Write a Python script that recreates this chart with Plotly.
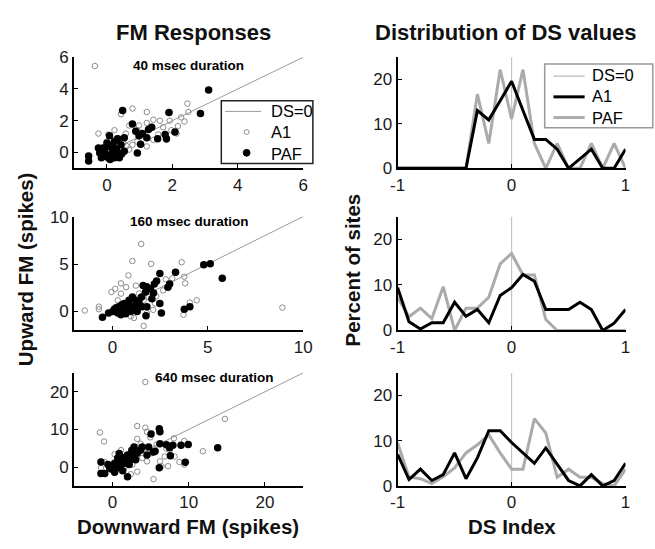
import plotly.graph_objects as go

# ---------------- scatter data: (downward FM, upward FM) spike counts ----------------
a1_40 = [(-0.37, 5.45), (0.78, 2.77), (0.43, 2.41), (1.22, 2.55), (1.87, 2.51), (2.46, 3.08),
         (2.49, 2.55), (2.27, 2.21), (2.17, 1.66), (2.37, 1.95), (1.62, 2.0), (1.42, 2.06),
         (1.22, 1.86), (0.98, 1.7), (0.93, 1.4), (0.68, 1.7), (0.23, 1.4), (-0.26, 1.19),
         (0.04, 1.13), (0.58, 1.19), (1.92, 2.0), (1.72, 1.59), (1.97, 1.4), (2.13, 1.19),
         (1.17, 0.99), (1.42, 0.79), (1.82, 0.79), (1.22, 0.38), (0.78, 0.48), (0.68, 0.18),
         (0.13, -0.43), (-0.17, -0.13), (0.33, 0.79), (0.43, 0.28), (0.93, 0.69), (1.57, 1.13),
         (0.1, 0.5), (0.3, 0.9), (0.5, 0.6), (-0.1, 0.2), (0.2, -0.2), (0.6, 0.4), (0.0, 0.7),
         (0.35, -0.3)]
paf_40 = [(3.11, 3.93), (0.48, 2.65), (1.90, 2.51), (2.86, 2.45), (0.78, 1.8), (1.37, 1.59),
          (1.27, 1.45), (0.88, 1.33), (0.98, 1.05), (1.08, 1.19), (1.22, 0.92), (1.55, 0.86),
          (1.78, 1.13), (2.08, 1.29), (1.82, 0.86), (1.03, 0.52), (0.93, -0.03), (0.53, 0.92),
          (0.33, 0.86), (0.08, 1.05), (0.23, 0.69), (-0.56, -0.23), (-0.56, -0.54), (-0.26, 0.28),
          (-0.17, -0.33), (-0.07, 0.08), (0.04, 0.38), (0.13, -0.13), (0.23, 0.28), (0.33, -0.03),
          (0.43, 0.48), (0.18, 0.08), (-0.07, -0.23), (-0.22, -0.03), (0.04, -0.33), (0.38, -0.33),
          (0.53, 0.08), (0.23, -0.33), (-0.12, 0.28), (0.0, 0.6), (0.15, 0.45), (0.3, 0.15),
          (0.1, -0.45), (-0.2, 0.1), (0.45, -0.1), (0.25, 0.0)]

a1_160 = [(1.51, 7.12), (1.05, 5.32), (2.03, 5.02), (3.63, 5.19), (0.84, 3.8), (0.45, 2.97),
          (0.15, 2.39), (-0.05, 2.05), (0.72, 2.56), (1.23, 2.73), (3.77, 3.66), (3.82, 2.97),
          (2.8, 3.39), (3.14, 3.49), (4.42, 1.18), (4.06, 0.95), (3.73, -0.34), (-1.45, 0.1),
          (-0.71, 0.51), (-0.71, 0.24), (1.64, -1.52), (1.13, -0.68), (0.96, -0.51), (1.64, 1.18),
          (1.9, 1.52), (2.24, 0.85), (2.66, 2.22), (0.45, 1.88), (0.28, 1.18), (1.3, 0.51),
          (1.81, -0.17), (2.14, 0.17), (0.62, -0.17), (8.91, 0.41), (0.3, 0.6), (0.8, 1.0),
          (1.4, 1.9), (2.3, 1.6)]
paf_160 = [(4.79, 4.92), (5.13, 5.02), (5.76, 3.49), (3.31, 4.14), (2.49, 4.0), (2.32, 3.22),
           (2.91, 2.56), (3.0, 2.9), (1.61, 2.73), (2.0, 2.39), (1.74, 2.05), (2.16, 1.95),
           (1.53, 1.52), (2.49, 0.85), (2.07, 1.35), (1.3, 0.68), (1.81, 0.51), (2.57, -0.17),
           (1.76, -0.44), (3.77, 0.24), (4.06, 0.51), (-0.52, -0.61), (-0.2, -0.17), (0.1, 0.24),
           (0.36, 0.51), (0.62, 0.85), (0.87, 1.18), (1.05, 1.52), (0.02, 0.0), (0.28, -0.17),
           (0.53, 0.17), (0.79, 0.34), (1.13, 0.51), (1.3, 0.0), (0.96, 0.0), (0.45, -0.34),
           (0.7, -0.24), (1.39, 1.01), (1.56, 0.51), (0.2, 0.4), (0.5, 0.7), (0.9, 0.6),
           (1.2, 1.2), (1.8, 2.6), (2.2, 2.9), (0.7, 0.1)]

a1_640 = [(4.32, 22.6), (14.75, 12.8), (11.86, 4.2), (-1.64, 9.2), (-1.09, 6.8), (3.26, 10.9),
          (4.32, 10.47), (4.54, 9.36), (4.96, 7.9), (3.26, 7.5), (3.69, 6.2), (8.06, 7.64),
          (9.42, 6.95), (7.08, 4.9), (7.5, 4.5), (6.87, 2.8), (8.15, 2.8), (8.79, 1.35),
          (7.29, 0.23), (6.44, 0.23), (5.39, -3.2), (3.26, -1.24), (2.41, -1.9), (-1.0, 1.35),
          (-1.5, -0.2), (0.29, 3.4), (1.14, 4.5), (2.2, 2.8), (3.9, 2.4), (5.18, 3.7),
          (9.42, 0.66), (6.23, 1.52), (2.62, 0.66), (1.56, -0.2), (4.54, 1.52), (1.0, 2.0),
          (2.0, 1.5), (5.8, 6.0), (3.0, 4.5)]
paf_640 = [(6.15, 10.2), (6.23, 9.36), (5.07, 8.76), (6.23, 6.2), (4.75, 5.3), (13.8, 5.1),
           (9.94, 6.0), (9.0, 5.8), (7.93, 5.8), (7.08, 5.9), (7.6, 3.0), (7.5, 5.1),
           (5.6, 4.2), (3.9, 5.3), (2.84, 5.3), (2.55, 4.5), (9.55, 1.27), (6.15, -0.2),
           (1.98, -2.6), (-1.5, 1.35), (-1.5, -1.7), (-1.0, -1.7), (-0.58, 0.66), (-0.15, -0.5),
           (0.29, 1.0), (0.7, 2.4), (0.9, 3.6), (1.14, 0.66), (1.56, 1.95), (1.98, 3.2),
           (2.2, 0.66), (2.62, 3.2), (3.26, 3.7), (3.69, 4.5), (0.07, 0.23), (0.7, -0.2),
           (1.35, -1.0), (0.29, -1.4), (-0.36, -0.2), (1.77, 1.0), (3.05, 1.95), (4.54, 3.2),
           (5.39, 4.0), (0.5, 0.5), (1.0, 1.5), (1.5, 2.5), (2.5, 2.0), (0.2, -0.8)]

# ---------------- DS index distributions (percent of sites) ----------------
ds_bins = [-1.0, -0.9, -0.8, -0.7, -0.6, -0.5, -0.4, -0.3, -0.2, -0.1, 0.0,
           0.1, 0.2, 0.3, 0.4, 0.5, 0.6, 0.7, 0.8, 0.9, 1.0]
ds_a1_40 = [0, 0, 0, 0, 0, 0, 0, 13.0, 10.9, 15.2, 19.6, 13.0, 6.5, 6.5, 4.3, 0, 2.2, 4.3, 0, 0, 4.3]
ds_paf_40 = [0, 0, 0, 0, 0, 0, 0, 16.7, 5.6, 22.2, 11.1, 22.2, 5.6, 0, 5.6, 0, 0, 5.6, 0, 5.6, 0]
ds_a1_160 = [9.4, 1.9, 0.3, 1.7, 1.7, 6.2, 3.1, 4.6, 1.7, 7.7, 9.4, 12.3, 10.8, 4.6, 4.6, 4.6, 6.2, 4.6, 0, 1.6, 4.6]
ds_paf_160 = [7.3, 3.0, 4.9, 2.6, 9.6, 0, 4.9, 4.9, 7.3, 14.6, 16.9, 12.2, 12.2, 2.4, 0, 0, 0, 0, 0, 0, 0]
ds_a1_640 = [7.0, 1.4, 3.7, 1.2, 2.5, 7.3, 1.6, 6.2, 12.2, 12.2, 9.6, 7.3, 5.0, 8.4, 4.8, 1.2, 0, 2.5, 0, 1.2, 5.0]
ds_paf_640 = [9.5, 2.0, 1.6, 0.5, 2.0, 4.0, 7.3, 9.1, 11.3, 7.3, 3.7, 3.7, 14.9, 11.7, 1.9, 3.7, 1.9, 1.9, 0.5, 0, 3.7]

# ---------------- panel settings ----------------
durations = ["40 msec duration", "160 msec duration", "640 msec duration"]
scatter_ranges = [(-1, 6), (-2, 10), (-5, 25)]
scatter_ticks = [[0, 2, 4, 6], [0, 5, 10], [0, 10, 20]]
scatter_sets = [(a1_40, paf_40), (a1_160, paf_160), (a1_640, paf_640)]
ds_sets = [(ds_a1_40, ds_paf_40), (ds_a1_160, ds_paf_160), (ds_a1_640, ds_paf_640)]
legend_labels = ["DS=0", "A1", "PAF"]

W, H = 655, 549
FONT = "Liberation Sans, Arial, Helvetica, sans-serif"
left_dom = [68 / W, 303 / W]
right_dom = [400 / W, 634 / W]
row_doms = [[1 - 165 / H, 1 - 50 / H], [1 - 333 / H, 1 - 215 / H], [1 - 494 / H, 1 - 377 / H]]
label_pos = [(185, 59), (186, 220), (212, 382)]

LINE_GRAY = "#9a9a9a"
A1_GRAY = "#8c8c8c"
PAF_GRAY = "#ababab"
VLINE_GRAY = "#c4c4c4"

fig = go.Figure()
layout = {}


def axis_style(**kw):
    d = dict(showline=True, linecolor="black", linewidth=2, ticks="inside", ticklen=4,
             tickwidth=1, tickcolor="black", showgrid=False, zeroline=False,
             tickfont=dict(family=FONT, size=17, color="#1a1a1a"), fixedrange=True)
    d.update(kw)
    return d


for r in range(3):
    xl, yl = f"x{2 * r + 1}", f"y{2 * r + 1}"
    xr, yr = f"x{2 * r + 2}", f"y{2 * r + 2}"
    lo, hi = scatter_ranges[r]
    ticks = scatter_ticks[r]

    # left: upward vs downward FM scatter
    layout[f"xaxis{2 * r + 1}"] = axis_style(domain=left_dom, range=[lo, hi], anchor=yl,
                                            tickvals=ticks)
    layout[f"yaxis{2 * r + 1}"] = axis_style(domain=row_doms[r], range=[lo, hi], anchor=xl,
                                            tickvals=ticks)
    a1, paf = scatter_sets[r]
    fig.add_trace(go.Scatter(x=[0, hi], y=[0, hi], mode="lines", name="DS=0",
                             line=dict(color=LINE_GRAY, width=1), xaxis=xl, yaxis=yl))
    fig.add_trace(go.Scatter(x=[p[0] for p in a1], y=[p[1] for p in a1], mode="markers",
                             name="A1", xaxis=xl, yaxis=yl,
                             marker=dict(symbol="circle-open", size=5.5, color=A1_GRAY,
                                         line=dict(width=1, color=A1_GRAY))))
    fig.add_trace(go.Scatter(x=[p[0] for p in paf], y=[p[1] for p in paf], mode="markers",
                             name="PAF", xaxis=xl, yaxis=yl,
                             marker=dict(symbol="circle", size=7.5, color="black")))

    # right: DS index distributions
    layout[f"xaxis{2 * r + 2}"] = axis_style(domain=right_dom, range=[-1, 1], anchor=yr,
                                            tickvals=[-1, 0, 1], ticktext=["-1", "0", "1"])
    layout[f"yaxis{2 * r + 2}"] = axis_style(domain=row_doms[r], range=[0, 25], anchor=xr,
                                            tickvals=[0, 10, 20])
    da1, dpaf = ds_sets[r]
    fig.add_trace(go.Scatter(x=[0, 0], y=[0, 25], mode="lines", name="DS=0",
                             line=dict(color=VLINE_GRAY, width=1.2), xaxis=xr, yaxis=yr))
    fig.add_trace(go.Scatter(x=ds_bins, y=dpaf, mode="lines", name="PAF",
                             line=dict(color=PAF_GRAY, width=3), xaxis=xr, yaxis=yr))
    fig.add_trace(go.Scatter(x=ds_bins, y=da1, mode="lines", name="A1",
                             line=dict(color="black", width=3), xaxis=xr, yaxis=yr))

annotations = []
shapes = []


def px_x(v):
    return v / W


def px_y(v):
    return 1 - v / H


for r in range(3):
    px, py = label_pos[r]
    annotations.append(dict(text=f"<b>{durations[r]}</b>", x=px_x(px), y=px_y(py),
                            xref="paper", yref="paper", showarrow=False,
                            font=dict(family=FONT, size=13.5, color="black"),
                            xanchor="center", yanchor="middle"))

for text, px, py, angle in [("FM Responses", 190, 24, 0),
                            ("Distribution of DS values", 511, 24, 0),
                            ("Upward FM (spikes)", 18, 270, -90),
                            ("Percent of sites", 354, 270, -90),
                            ("Downward FM (spikes)", 185, 536, 0),
                            ("DS Index", 517, 536, 0)]:
    size = 22 if py < 50 else 20.5
    annotations.append(dict(text=f"<b>{text}</b>", x=px_x(px), y=px_y(py), xref="paper",
                            yref="paper", showarrow=False, textangle=angle,
                            font=dict(family=FONT, size=size, color="#111"),
                            xanchor="center", yanchor="middle"))

# ---------------- legends (boxed keys, MATLAB style) ----------------
LEG_FONT = 16.5
LEG_STEP = LEG_FONT * 1.3  # plotly line spacing for multi-line text


def legend_block(x_text, y_mid):
    annotations.append(dict(text="<br>".join(legend_labels), x=px_x(x_text), y=px_y(y_mid),
                            xref="paper", yref="paper", showarrow=False, align="left",
                            xanchor="left", yanchor="middle",
                            font=dict(family=FONT, size=LEG_FONT, color="black")))
    return [y_mid - LEG_STEP, y_mid, y_mid + LEG_STEP]


# scatter key
shapes.append(dict(type="rect", xref="paper", yref="paper", x0=px_x(219), x1=px_x(313),
                   y0=px_y(160), y1=px_y(95), line=dict(color="#222", width=1.5),
                   fillcolor="white", layer="above"))
rows = legend_block(268, 127.5)
shapes.append(dict(type="line", xref="paper", yref="paper", x0=px_x(223), x1=px_x(260),
                   y0=px_y(rows[0]), y1=px_y(rows[0]), line=dict(color=LINE_GRAY, width=1)))
shapes.append(dict(type="circle", xref="paper", yref="paper", x0=px_x(242.5), x1=px_x(247.5),
                   y0=px_y(rows[1] + 2.5), y1=px_y(rows[1] - 2.5),
                   line=dict(color=A1_GRAY, width=1)))
shapes.append(dict(type="circle", xref="paper", yref="paper", x0=px_x(241.5), x1=px_x(248.5),
                   y0=px_y(rows[2] + 3.5), y1=px_y(rows[2] - 3.5),
                   line=dict(color="black", width=1), fillcolor="black"))

# distribution key
shapes.append(dict(type="rect", xref="paper", yref="paper", x0=px_x(551), x1=px_x(662),
                   y0=px_y(123), y1=px_y(57), line=dict(color="#999", width=1.5),
                   fillcolor="white", layer="above"))
rows = legend_block(598, 91)
for yy, col, wd in [(rows[0], VLINE_GRAY, 1.5), (rows[1], "black", 3), (rows[2], PAF_GRAY, 3)]:
    shapes.append(dict(type="line", xref="paper", yref="paper", x0=px_x(560), x1=px_x(592),
                       y0=px_y(yy), y1=px_y(yy), line=dict(color=col, width=wd)))

fig.update_layout(
    width=W, height=H,
    margin=dict(l=0, r=0, t=0, b=0),
    paper_bgcolor="white", plot_bgcolor="white",
    showlegend=False,
    annotations=annotations,
    shapes=shapes,
    **layout,
)

fig.write_html("out.html")
